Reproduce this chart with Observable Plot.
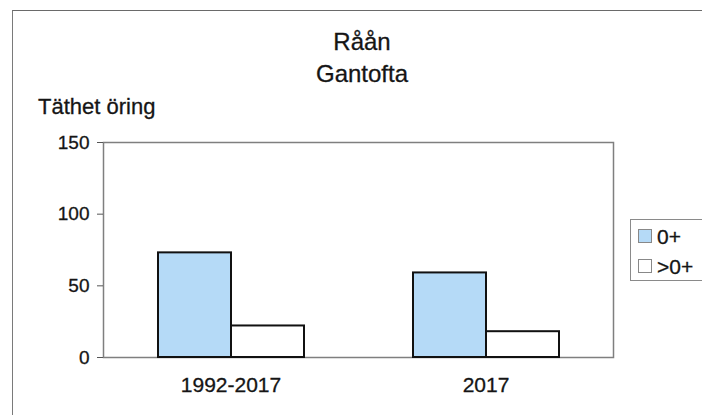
<!DOCTYPE html>
<html>
<head>
<meta charset="utf-8">
<script src="https://cdn.jsdelivr.net/npm/d3@7"></script>
<script src="https://cdn.jsdelivr.net/npm/@observablehq/plot@0.6"></script>
<style>
  html, body { margin: 0; padding: 0; background: #fff; overflow: hidden; }
  #wrap { position: relative; width: 702px; height: 415px; overflow: hidden; font-family: "Liberation Sans", Arial, sans-serif; color: #151515; }
  #wrap svg { position: absolute; left: 0; top: 0; }
  #wrap svg text { stroke: #151515; stroke-width: 0.3px; }
  #wrap .txt { -webkit-text-stroke: 0.3px #151515; }
  .outer { position: absolute; left: 12px; top: 10px; width: 720px; height: 430px; border-left: 1.5px solid #7a7a7a; border-top: 1.5px solid #6a6a6a; }
  .title { position: absolute; left: 262px; width: 200px; top: 26px; text-align: center; font-size: 24px; line-height: 32px; }
  .ylabel { position: absolute; left: 38px; top: 96px; font-size: 22px; line-height: 22px; white-space: nowrap; }
  .legend { position: absolute; left: 630px; top: 219px; width: 200px; height: 62px; border: 1px solid #8a8a8a; border-right: none; background: #fff; box-sizing: border-box; padding-top: 1px; }
  .legend .row { display: flex; align-items: center; height: 30px; }
  .legend .sw { width: 14px; height: 14px; border: 1px solid #888; box-sizing: border-box; margin-left: 7px; }
  .legend .lab { font-size: 21px; line-height: 1; margin-left: 5px; }
</style>
</head>
<body>
<div id="wrap"></div>
<script>
const titleLines = ["Råån", "Gantofta"];
const yLabel = "Täthet öring";
const categories = ["1992-2017", "2017"];
const series = ["0+", ">0+"];
const values0plus = [73, 59];
const valuesOlder = [22, 18];
const seriesColors = ["#b5daf7", "#ffffff"];
const yTicks = [0, 50, 100, 150];

const rows = categories.flatMap((c, i) => [
  {period: c, age: series[0], value: values0plus[i]},
  {period: c, age: series[1], value: valuesOlder[i]}
]);

const chart = Plot.plot({
  width: 702,
  height: 415,
  marginTop: 142,
  marginBottom: 58,
  marginLeft: 102,
  marginRight: 89,
  style: {fontFamily: '"Liberation Sans", Arial, sans-serif', background: "transparent", color: "#151515"},
  fx: {domain: categories, padding: 0, label: null},
  x: {domain: series, paddingInner: 0, paddingOuter: 0.745, axis: null},
  y: {domain: [0, 150], label: null},
  color: {domain: series, range: seriesColors},
  marks: [
    Plot.frame({facet: "super", stroke: "#7f7f7f", strokeWidth: 1.5}),
    Plot.barY(rows, {fx: "period", x: "age", y: "value", fill: "age", stroke: "#111", strokeWidth: 2}),
    Plot.axisY(yTicks, {tickSize: 6, tickPadding: 8, fontSize: 19, label: null, stroke: "#555"}),
    Plot.axisFx({anchor: "bottom", tickSize: 0, tickPadding: 20, fontSize: 21, label: null})
  ]
});

const wrap = document.getElementById("wrap");
wrap.appendChild(chart);

const outer = document.createElement("div");
outer.className = "outer";
wrap.appendChild(outer);

const title = document.createElement("div");
title.className = "title txt";
titleLines.forEach(t => { const d = document.createElement("div"); d.textContent = t; title.appendChild(d); });
wrap.appendChild(title);

const yl = document.createElement("div");
yl.className = "ylabel txt";
yl.textContent = yLabel;
wrap.appendChild(yl);

const legend = document.createElement("div");
legend.className = "legend";
series.forEach((s, i) => {
  const row = document.createElement("div");
  row.className = "row";
  const sw = document.createElement("div");
  sw.className = "sw";
  sw.style.background = seriesColors[i];
  const lab = document.createElement("span");
  lab.className = "lab txt";
  lab.textContent = s;
  row.appendChild(sw);
  row.appendChild(lab);
  legend.appendChild(row);
});
wrap.appendChild(legend);
</script>
</body>
</html>
